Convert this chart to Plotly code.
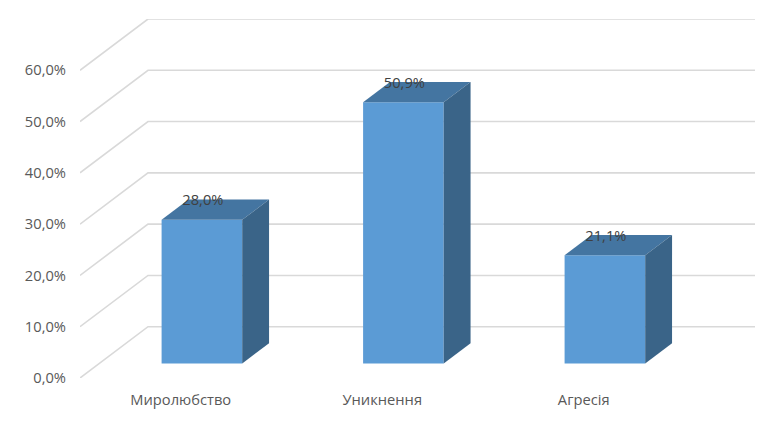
import plotly.graph_objects as go

categories = ["Миролюбство", "Уникнення", "Агресія"]
values = [28.0, 50.9, 21.1]
value_labels = ["28,0%", "50,9%", "21,1%"]
tick_values = [0, 10, 20, 30, 40, 50, 60]
tick_labels = ["0,0%", "10,0%", "20,0%", "30,0%", "40,0%", "50,0%", "60,0%"]

# глибина стіни в одиницях осей (категорії / відсотки)
depth_x = 0.3375
depth_y = 10.0
bar_width = 0.4
bar_shift = 0.105  # зсув стовпчика вправо від центру категорії
bar_front = 0.285  # де починається стовпчик по глибині
bar_back = 0.68

grid_color = "#d9d9d9"
front_color = "#5b9bd5"
top_color = "#4475a1"
side_color = "#3a6488"
text_color = "#595959"
label_color = "#404040"

fig = go.Figure()

# лінії сітки: задня стіна і бічна стіна
x_left = -0.5
x_right = 2.85
for t in tick_values:
    fig.add_trace(go.Scatter(x=[x_left, x_left + depth_x, x_right],
                             y=[t, t + depth_y, t + depth_y],
                             mode="lines", line=dict(color=grid_color, width=1.6),
                             cliponaxis=False, hoverinfo="skip", showlegend=False))

# стовпчики
for i, v in enumerate(values):
    x0 = i + bar_shift - bar_width / 2
    x1 = i + bar_shift + bar_width / 2
    y0 = bar_front * depth_y
    y1 = y0 + v
    dx = (bar_back - bar_front) * depth_x
    dy = (bar_back - bar_front) * depth_y
    # передня грань
    fig.add_trace(go.Scatter(x=[x0, x1, x1, x0, x0], y=[y0, y0, y1, y1, y0],
                             mode="lines", fill="toself", fillcolor=front_color,
                             line=dict(width=0), showlegend=False))
    # верхня грань
    fig.add_trace(go.Scatter(x=[x0, x1, x1 + dx, x0 + dx, x0], y=[y1, y1, y1 + dy, y1 + dy, y1],
                             mode="lines", fill="toself", fillcolor=top_color,
                             line=dict(width=0), showlegend=False))
    # бічна грань
    fig.add_trace(go.Scatter(x=[x1, x1 + dx, x1 + dx, x1, x1], y=[y0, y0 + dy, y1 + dy, y1, y0],
                             mode="lines", fill="toself", fillcolor=side_color,
                             line=dict(width=0), showlegend=False))

# підписи значень поверх усіх граней
for i, v in enumerate(values):
    label_y = (bar_back * depth_y) + v - 0.4
    fig.add_trace(go.Scatter(x=[i + 0.11], y=[label_y], mode="text", text=[value_labels[i]],
                             textposition="middle center",
                             textfont=dict(size=14.7, color=label_color), showlegend=False))

fig.update_layout(width=764, height=405, plot_bgcolor="white", paper_bgcolor="white",
                  margin=dict(l=72, r=17, t=11, b=35),
                  font=dict(family="Open Sans", size=14.7, color=text_color),
                  xaxis=dict(range=[x_left, x_right], tickvals=[0, 1, 2], ticktext=categories,
                             showgrid=False, zeroline=False, showline=False, ticks="",
                             ticklabelstandoff=11, automargin=False),
                  yaxis=dict(range=[0, 70], tickvals=tick_values, ticktext=tick_labels,
                             showgrid=False, zeroline=False, showline=False, ticks="",
                             ticklabelstandoff=13, automargin=False))
fig.write_html("out.html")
